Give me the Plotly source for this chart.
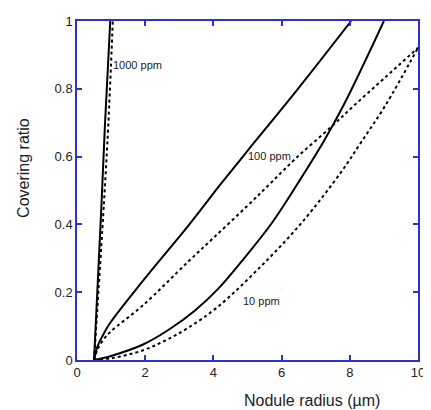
import plotly.graph_objects as go

# 1000 ppm
x_1000_solid = [0.5, 0.72, 0.82, 0.975]
y_1000_solid = [0.0, 0.463, 0.694, 1.0]
x_1000_dot = [0.5, 0.79, 0.918, 1.05]
y_1000_dot = [0.0, 0.463, 0.694, 1.0]

# 100 ppm
x_100_solid = [0.5, 0.6, 0.76, 0.955, 1.92, 3.26, 4.23, 5.0, 6.45, 8.04]
y_100_solid = [0.0, 0.04, 0.073, 0.107, 0.232, 0.396, 0.521, 0.617, 0.796, 1.0]
x_100_dot = [0.5, 0.6, 0.76, 1.0, 1.92, 3.26, 4.0, 5.0, 5.67, 6.45, 7.46, 8.14, 9.0, 10.0]
y_100_dot = [0.0, 0.03, 0.058, 0.085, 0.16, 0.29, 0.36, 0.455, 0.521, 0.598, 0.688, 0.752, 0.83, 0.921]

# 10 ppm
x_10_solid = [0.5, 1.0, 1.92, 2.7, 3.47, 4.13, 4.9, 5.72, 6.5, 7.22, 7.85, 9.0]
y_10_solid = [0.0, 0.012, 0.045, 0.09, 0.147, 0.209, 0.30, 0.405, 0.525, 0.642, 0.758, 1.0]
x_10_dot = [0.5, 1.0, 1.92, 2.6, 3.26, 4.13, 5.39, 6.59, 7.75, 8.33, 9.05, 10.0]
y_10_dot = [0.0, 0.005, 0.028, 0.058, 0.095, 0.157, 0.276, 0.405, 0.555, 0.642, 0.752, 0.921]

labels = ["1000 ppm", "100 ppm", "10 ppm"]
label_x = [1.76, 5.64, 5.41]
label_y = [0.871, 0.602, 0.174]

x_ticks = [0, 2, 4, 6, 8, 10]
y_ticks = [0, 0.2, 0.4, 0.6, 0.8, 1]

fig = go.Figure()
series = [
    (x_1000_solid, y_1000_solid, "solid"),
    (x_1000_dot, y_1000_dot, "dot"),
    (x_100_solid, y_100_solid, "solid"),
    (x_100_dot, y_100_dot, "dot"),
    (x_10_solid, y_10_solid, "solid"),
    (x_10_dot, y_10_dot, "dot"),
]
for xs, ys, dash in series:
    fig.add_trace(go.Scatter(
        x=xs, y=ys, mode="lines",
        line=dict(color="black", width=2, dash=dash, shape="spline", smoothing=1.0),
        showlegend=False, hoverinfo="skip"))

for t, lx, ly in zip(labels, label_x, label_y):
    fig.add_annotation(x=lx, y=ly, text=t, showarrow=False,
                       font=dict(size=11, color="#222"), xanchor="center", yanchor="middle")

axis_common = dict(showline=True, linecolor="#3030d0", linewidth=1.5, mirror="ticks",
                   ticks="inside", ticklen=5, tickcolor="#3030d0", tickwidth=1.5,
                   showgrid=False, zeroline=False,
                   tickfont=dict(family="Liberation Sans, Arial", size=13, color="#222"))

fig.update_xaxes(range=[0, 10], tickvals=x_ticks, **axis_common)
fig.update_yaxes(range=[0, 1], tickvals=y_ticks, ticktext=[str(v) for v in y_ticks], **axis_common)

fig.add_annotation(xref="paper", yref="paper", x=0.69, y=-0.118, text="Nodule radius (µm)",
                   showarrow=False, font=dict(family="Liberation Sans, Arial", size=16, color="#222"),
                   xanchor="center", yanchor="middle")
fig.add_annotation(xref="paper", yref="paper", x=-0.157, y=0.568, text="Covering ratio",
                   showarrow=False, textangle=-90,
                   font=dict(family="Liberation Sans, Arial", size=16, color="#222"),
                   xanchor="center", yanchor="middle")

# page body has an 8px margin, so the figure is sized to fit the window
fig.update_layout(width=423, height=402, plot_bgcolor="white", paper_bgcolor="white",
                  margin=dict(l=69, r=8, t=6, b=50),
                  font=dict(family="Liberation Sans, Arial"))

fig.write_html("out.html")
